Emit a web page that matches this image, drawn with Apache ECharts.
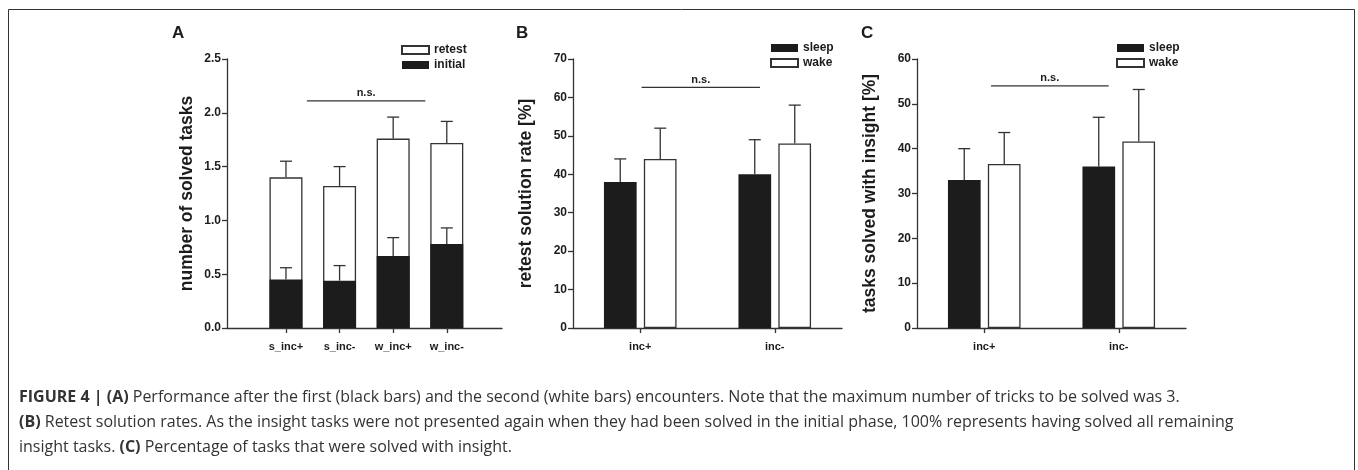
<!DOCTYPE html>
<html>
<head>
<meta charset="utf-8">
<script src="https://cdn.jsdelivr.net/npm/echarts@6/dist/echarts.min.js"></script>
<style>
  html, body { margin: 0; padding: 0; background: #fff; }
  #chart { width: 1358px; height: 470px; }
</style>
</head>
<body>
<div id="chart"></div>
<script>
// panel A: solved tasks per group
const groupsA = ['s_inc+', 's_inc-', 'w_inc+', 'w_inc-']
const initialA = [0.45, 0.44, 0.67, 0.78]
const retestA = [0.95, 0.88, 1.09, 0.94]
const initialErrA = [0.11, 0.14, 0.17, 0.15]
const totalErrA = [0.15, 0.18, 0.20, 0.20]

// panel B: retest solution rate [%]
const groupsBC = ['inc+', 'inc-']
const sleepB = [38, 40]
const wakeB = [44, 48]
const sleepErrB = [6, 9]
const wakeErrB = [8, 10]

// panel C: tasks solved with insight [%]
const sleepC = [33, 36]
const wakeC = [36.6, 41.6]
const sleepErrC = [7, 11]
const wakeErrC = [7, 11.6]

// n.s. lines: [x from, x to, y]
const nsA = [1.39, 3.6, 2.11]
const nsB = [1.01, 1.89, 62.6]
const nsC = [1.05, 1.925, 54]

const FONT = 'Liberation Sans, Arial, Helvetica, sans-serif'
const CAP_FONT = 'Open Sans, Liberation Sans, sans-serif'
const INK = '#1c1c1c'
const LINE = '#333'

const chart = echarts.init(document.getElementById('chart'))

// x position of each group is its index + 1
const pos = (i) => i + 1
// retest sits on top of initial, so the white bar reaches the sum
const totalA = initialA.map((v, i) => v + retestA[i])

function errSeries(xi, rows, dx) {
  return {
    type: 'custom',
    xAxisIndex: xi,
    yAxisIndex: xi,
    z: 3,
    silent: true,
    data: rows, // [x, bar top, err]
    renderItem(params, api) {
      const p0 = api.coord([api.value(0), api.value(1)])
      const p1 = api.coord([api.value(0), api.value(1) + api.value(2)])
      const x = p0[0] + dx
      const st = { stroke: LINE, lineWidth: 1.3 }
      return {
        type: 'group',
        children: [
          { type: 'line', shape: { x1: x, y1: p0[1], x2: x, y2: p1[1] }, style: st },
          { type: 'line', shape: { x1: x - 6, y1: p1[1], x2: x + 6, y2: p1[1] }, style: st }
        ]
      }
    }
  }
}

function nsSeries(xi, ns) {
  return {
    type: 'custom',
    xAxisIndex: xi,
    yAxisIndex: xi,
    silent: true,
    data: [ns],
    renderItem(params, api) {
      const a = api.coord([api.value(0), api.value(2)])
      const b = api.coord([api.value(1), api.value(2)])
      return {
        type: 'group',
        children: [
          { type: 'line', shape: { x1: a[0], y1: a[1], x2: b[0], y2: b[1] }, style: { stroke: LINE, lineWidth: 1.2 } },
          {
            type: 'text',
            style: {
              text: 'n.s.', x: (a[0] + b[0]) / 2, y: a[1] - 2,
              align: 'center', verticalAlign: 'bottom',
              font: 'bold 11px ' + FONT, fill: INK
            }
          }
        ]
      }
    }
  }
}

function xAxisCfg(gi, min, max, names) {
  const vals = names.map((n, i) => pos(i))
  return {
    type: 'value', gridIndex: gi, min: min, max: max,
    splitLine: { show: false },
    axisLine: { onZero: false, lineStyle: { color: LINE, width: 1.3 } },
    axisTick: { show: true, customValues: vals, length: 5, lineStyle: { color: LINE, width: 1.3 } },
    axisLabel: {
      customValues: vals, margin: 13,
      formatter: (v) => names[Math.round(v) - 1],
      color: INK, fontWeight: 'bold', fontSize: 11, fontFamily: FONT
    }
  }
}

function yAxisCfg(gi, max, interval, name, digits, gap) {
  return {
    type: 'value', gridIndex: gi, min: 0, max: max, interval: interval,
    name: name, nameLocation: 'middle', nameRotate: 90, nameGap: gap,
    nameTextStyle: { color: INK, fontWeight: 'bold', fontSize: 17.5, fontFamily: FONT },
    splitLine: { show: false },
    axisLine: { show: true, onZero: false, lineStyle: { color: LINE, width: 1.3 } },
    axisTick: { show: true, length: 5, lineStyle: { color: LINE, width: 1.3 } },
    axisLabel: {
      margin: 6, color: INK, fontWeight: 'bold', fontSize: 12, fontFamily: FONT,
      formatter: (v) => v.toFixed(digits)
    }
  }
}

const legendBase = {
  orient: 'vertical', icon: 'rect', itemWidth: 27, itemHeight: 8, itemGap: 3,
  padding: 0, selectedMode: false,
  textStyle: { color: INK, fontWeight: 'bold', fontSize: 12, fontFamily: FONT }
}

const blackStyle = { color: INK }
const whiteStyle = { color: '#fff', borderColor: LINE, borderWidth: 1.3 }

const captionRich = { b: { fontWeight: 'bold', fontSize: 16, fontFamily: CAP_FONT, color: '#333' } }
const capLine = (t, y) => ({
  type: 'text', left: 19, top: y,
  style: { text: t, fontSize: 16, fontFamily: CAP_FONT, fill: '#333', rich: captionRich }
})

const option = {
  animation: false,
  grid: [
    { left: 227, top: 59, width: 275, height: 269 },
    { left: 573, top: 59, width: 269, height: 269 },
    { left: 917, top: 59, width: 269, height: 269 }
  ],
  xAxis: [
    xAxisCfg(0, -0.1, 5.03, groupsA),
    xAxisCfg(1, 0.5, 2.5, groupsBC),
    xAxisCfg(2, 0.5, 2.5, groupsBC)
  ],
  yAxis: [
    yAxisCfg(0, 2.5, 0.5, 'number of solved tasks', 1, 31),
    yAxisCfg(1, 70, 10, 'retest solution rate [%]', 0, 38),
    yAxisCfg(2, 60, 10, 'tasks solved with insight [%]', 0, 38)
  ],
  legend: [
    Object.assign({ data: ['retest', 'initial'], left: 401, top: 44 }, legendBase),
    Object.assign({ data: ['sleep', 'wake'], left: 770, top: 42 }, legendBase),
    Object.assign({ data: ['sleep', 'wake'], left: 1116, top: 42 }, legendBase)
  ],
  series: [
    // A: white retest bar up to the total, black initial bar drawn over its lower part
    {
      name: 'retest', type: 'bar', xAxisIndex: 0, yAxisIndex: 0, barWidth: 33, barGap: '-100%',
      itemStyle: whiteStyle, data: totalA.map((v, i) => [pos(i), v])
    },
    {
      name: 'initial', type: 'bar', xAxisIndex: 0, yAxisIndex: 0, barWidth: 33, barGap: '-100%', z: 2,
      itemStyle: blackStyle, data: initialA.map((v, i) => [pos(i), v])
    },
    errSeries(0, initialA.map((v, i) => [pos(i), v, initialErrA[i]]), 0),
    errSeries(0, totalA.map((v, i) => [pos(i), v, totalErrA[i]]), 0),
    nsSeries(0, nsA),
    // B
    {
      name: 'sleep', type: 'bar', xAxisIndex: 1, yAxisIndex: 1, barWidth: 32.7, barGap: '22%',
      itemStyle: blackStyle, data: sleepB.map((v, i) => [pos(i), v])
    },
    {
      name: 'wake', type: 'bar', xAxisIndex: 1, yAxisIndex: 1, barWidth: 32.7, barGap: '22%',
      itemStyle: whiteStyle, data: wakeB.map((v, i) => [pos(i), v])
    },
    errSeries(1, sleepB.map((v, i) => [pos(i), v, sleepErrB[i]]), -20),
    errSeries(1, wakeB.map((v, i) => [pos(i), v, wakeErrB[i]]), 20),
    nsSeries(1, nsB),
    // C
    {
      name: 'sleep', type: 'bar', xAxisIndex: 2, yAxisIndex: 2, barWidth: 32.7, barGap: '22%',
      itemStyle: blackStyle, data: sleepC.map((v, i) => [pos(i), v])
    },
    {
      name: 'wake', type: 'bar', xAxisIndex: 2, yAxisIndex: 2, barWidth: 32.7, barGap: '22%',
      itemStyle: whiteStyle, data: wakeC.map((v, i) => [pos(i), v])
    },
    errSeries(2, sleepC.map((v, i) => [pos(i), v, sleepErrC[i]]), -20),
    errSeries(2, wakeC.map((v, i) => [pos(i), v, wakeErrC[i]]), 20),
    nsSeries(2, nsC)
  ],
  graphic: [
    // frame round the whole figure
    { type: 'rect', shape: { x: 8.5, y: 9.5, width: 1346, height: 500 }, style: { fill: 'none', stroke: '#333', lineWidth: 1 }, silent: true },
    { type: 'text', left: 172, top: 25, style: { text: 'A', font: 'bold 17px ' + FONT, fill: INK } },
    { type: 'text', left: 516, top: 25, style: { text: 'B', font: 'bold 17px ' + FONT, fill: INK } },
    { type: 'text', left: 861, top: 25, style: { text: 'C', font: 'bold 17px ' + FONT, fill: INK } },
    capLine('{b|FIGURE 4 | (A)} Performance after the first (black bars) and the second (white bars) encounters. Note that the maximum number of tricks to be solved was 3.', 389),
    capLine('{b|(B)} Retest solution rates. As the insight tasks were not presented again when they had been solved in the initial phase, 100% represents having solved all remaining', 414),
    capLine('insight tasks. {b|(C)} Percentage of tasks that were solved with insight.', 439)
  ]
}

chart.setOption(option)
</script>
</body>
</html>
